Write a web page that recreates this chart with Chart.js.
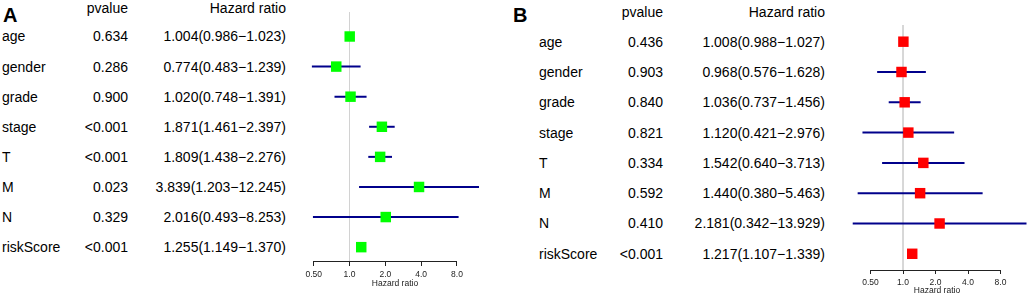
<!DOCTYPE html>
<html>
<head>
<meta charset="utf-8">
<script src="https://cdn.jsdelivr.net/npm/chart.js@4.4.1/dist/chart.umd.min.js"></script>
<style>
    html, body { margin: 0; padding: 0; background: #fff; }
    #wrap { position: relative; width: 1029px; height: 296px; overflow: hidden;
            font-family: "Liberation Sans", Arial, sans-serif; color: #000; }
    #wrap canvas { position: absolute; top: 0; }
    .t { position: absolute; font-size: 14px; line-height: 14px; white-space: nowrap; }
    .l { transform: translate(0, -50%); }
    .r { transform: translate(-100%, -50%); }
    .tag { font-size: 20px; line-height: 20px; font-weight: bold; }
</style>
</head>
<body>
<div id="wrap"></div>
<script>
// --- データ ---
const ROWS = ['age', 'gender', 'grade', 'stage', 'T', 'M', 'N', 'riskScore'];
const TICKS = [0.5, 1, 2, 4, 8];
const TICK_LABELS = ['0.50', '1.0', '2.0', '4.0', '8.0'];

const A_PVAL = ['0.634', '0.286', '0.900', '<0.001', '<0.001', '0.023', '0.329', '<0.001'];
const A_HR   = [1.004, 0.774, 1.020, 1.871, 1.809, 3.839, 2.016, 1.255];
const A_LOW  = [0.986, 0.483, 0.748, 1.461, 1.438, 1.203, 0.493, 1.149];
const A_HIGH = [1.023, 1.239, 1.391, 2.397, 2.276, 12.245, 8.253, 1.370];

const B_PVAL = ['0.436', '0.903', '0.840', '0.821', '0.334', '0.592', '0.410', '<0.001'];
const B_HR   = [1.008, 0.968, 1.036, 1.120, 1.542, 1.440, 2.181, 1.217];
const B_LOW  = [0.988, 0.576, 0.737, 0.421, 0.640, 0.380, 0.342, 1.107];
const B_HIGH = [1.027, 1.628, 1.456, 2.976, 3.713, 5.463, 13.929, 1.339];

// --- レイアウト ---
const PANELS = [
    { tag: 'A', pval: A_PVAL, hr: A_HR, low: A_LOW, high: A_HIGH, color: '#00ff00',
      left: 300, width: 190, xMin: 0.3838, xMax: 15.15, yMin: -0.814, yMax: 7.46,
      top: 12, axisH: 35, tickLen: 5, titlePad: 7,
      tagX: 3, tagY: 14.5, nameX: 2, pX: 128, hrX: 286, headY: 8 },
    { tag: 'B', pval: B_PVAL, hr: B_HR, low: B_LOW, high: B_HIGH, color: '#ff0000',
      left: 845, width: 184, xMin: 0.2901, xMax: 14.69, yMin: -0.551, yMax: 7.535,
      top: 25, axisH: 26, tickLen: 4, titlePad: 0,
      tagX: 513, tagY: 14.5, nameX: 539, pX: 663, hrX: 825, headY: 12 }
];

const FONT = '"Liberation Sans", Arial, sans-serif';
Chart.defaults.font.family = FONT;

const wrap = document.getElementById('wrap');

function addText(text, x, y, cls) {
    const el = document.createElement('div');
    el.className = 't ' + cls;
    el.textContent = text;
    el.style.left = x + 'px';
    el.style.top = y + 'px';
    wrap.appendChild(el);
}

// x軸の線は 0.50〜8.0 の範囲だけ
const axisSpan = {
    id: 'axisSpan',
    afterDraw(chart) {
        const sx = chart.scales.x;
        const t = sx.ticks;
        const y = Math.round(chart.chartArea.bottom) + 0.5;
        const ctx = chart.ctx;
        ctx.save();
        ctx.strokeStyle = '#222';
        ctx.lineWidth = 1;
        ctx.beginPath();
        ctx.moveTo(sx.getPixelForValue(t[0].value), y);
        ctx.lineTo(sx.getPixelForValue(t[t.length - 1].value), y);
        ctx.stroke();
        ctx.restore();
    }
};

function fmt(v) { return v.toFixed(3); }

PANELS.forEach(p => {
    const canvas = document.createElement('canvas');
    canvas.width = p.width;
    canvas.height = 296;
    canvas.style.left = p.left + 'px';
    wrap.appendChild(canvas);

    const datasets = [];
    // 基準線 (HR = 1)
    datasets.push({
        data: [{ x: 1, y: p.yMin }, { x: 1, y: p.yMax }],
        showLine: true, borderColor: '#d2d2d2', borderWidth: 1, pointRadius: 0, order: 3
    });
    // 信頼区間
    ROWS.forEach((_, i) => {
        datasets.push({
            data: [{ x: p.low[i], y: i }, { x: p.high[i], y: i }],
            showLine: true, borderColor: '#00008b', borderWidth: 2, pointRadius: 0, order: 2
        });
    });
    // ハザード比
    datasets.push({
        data: p.hr.map((v, i) => ({ x: v, y: i })),
        pointStyle: 'rect', pointRadius: 7.4, backgroundColor: p.color,
        borderColor: p.color, borderWidth: 0, order: 1
    });

    const chart = new Chart(canvas.getContext('2d'), {
        type: 'scatter',
        data: { datasets },
        options: {
            responsive: false,
            animation: false,
            events: [],
            layout: { autoPadding: false, padding: { top: p.top, left: 0, right: 0, bottom: 0 } },
            plugins: { legend: { display: false }, tooltip: { enabled: false } },
            scales: {
                x: {
                    type: 'logarithmic', min: p.xMin, max: p.xMax, bounds: 'data',
                    afterBuildTicks: s => { s.ticks = TICKS.map(v => ({ value: v })); },
                    afterFit: s => { s.height = p.axisH; },
                    border: { display: false },
                    grid: { drawOnChartArea: false, drawTicks: true, tickLength: p.tickLen, color: '#222' },
                    ticks: { autoSkip: false, maxRotation: 0, padding: 4, color: '#222',
                             font: { size: 8.5 }, callback: (v, i) => TICK_LABELS[i] },
                    title: { display: true, text: 'Hazard ratio', color: '#222',
                             font: { size: 8.5 }, padding: { top: 0, bottom: p.titlePad } }
                },
                y: { type: 'linear', reverse: true, min: p.yMin, max: p.yMax, display: false }
            }
        },
        plugins: [axisSpan]
    });

    // --- 表のテキスト ---
    const sy = chart.scales.y;
    const tag = document.createElement('div');
    tag.className = 't l tag';
    tag.textContent = p.tag;
    tag.style.left = p.tagX + 'px';
    tag.style.top = p.tagY + 'px';
    wrap.appendChild(tag);

    addText('pvalue', p.pX, p.headY, 'r');
    addText('Hazard ratio', p.hrX, p.headY, 'r');
    ROWS.forEach((name, i) => {
        const y = sy.getPixelForValue(i);
        addText(name, p.nameX, y, 'l');
        addText(p.pval[i], p.pX, y, 'r');
        addText(`${fmt(p.hr[i])}(${fmt(p.low[i])}\u2212${fmt(p.high[i])})`, p.hrX, y, 'r');
    });
});
</script>
</body>
</html>
